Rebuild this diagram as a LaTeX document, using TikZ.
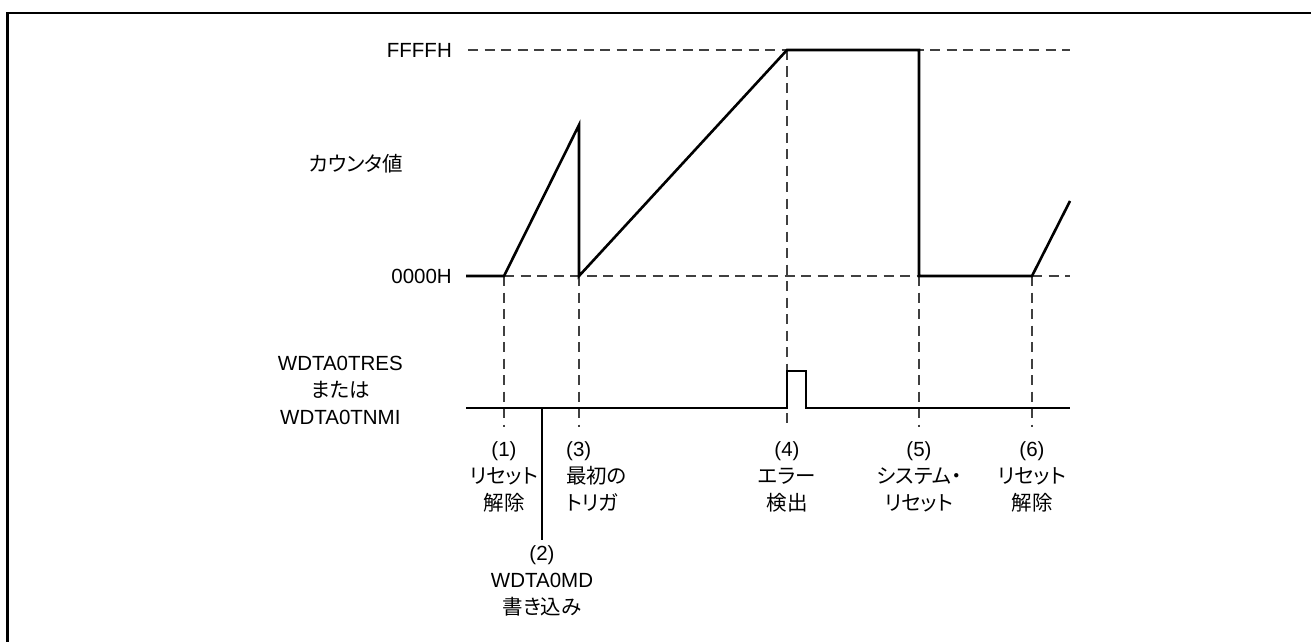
\documentclass[tikz,border=0pt]{standalone}
\usepackage{fontspec}
\setmainfont{Liberation Sans}
\newfontfamily\jp[RawFeature=+palt]{Noto Sans CJK JP}
\begin{document}
\begin{tikzpicture}[x=1pt,y=-1pt,
  lbl/.style={inner sep=0pt, font=\fontsize{20.5}{27}\selectfont},
  evlbl/.style={lbl, align=center, anchor=north},
  guide/.style={draw=black!75, line width=1.3pt, dash pattern=on 10pt off 6.5pt},
  wave/.style={draw=black, line width=2.6pt, line join=miter},
  sig/.style={draw=black, line width=2.9pt},
  thin/.style={draw=black, line width=1.1pt}]
\useasboundingbox (0,0) rectangle (1311,642);
% frame
\draw[line width=2.6pt] (7.7,645) -- (7.7,13) -- (1315,13);
% event coordinates
\coordinate (s0) at (466,276);
\coordinate (e1) at (504,276);
\coordinate (pk) at (579,125);
\coordinate (e3) at (579,276);
\coordinate (e4) at (787,50);
\coordinate (e5t) at (919,50);
\coordinate (e5) at (919,276);
\coordinate (e6) at (1032,276);
\coordinate (w7) at (1070,201);
\coordinate (fL) at (468,50);
\coordinate (fR) at (1070,50);
\coordinate (zR) at (1070,276);
\coordinate (b1) at (504,427);
\coordinate (b3) at (579,427);
\coordinate (b4) at (787,427);
\coordinate (b5) at (919,427);
\coordinate (b6) at (1032,427);
\coordinate (g0) at (466,408);
\coordinate (p1) at (787,408);
\coordinate (p2) at (787,371);
\coordinate (p3) at (806,371);
\coordinate (p4) at (806,408);
\coordinate (gR) at (1070,408);
\coordinate (m2t) at (542,408);
\coordinate (m2b) at (542,540);
% guides
\draw[guide] (fL) -- (fR);
\draw[guide] (e1) -- (zR);
\draw[guide] (e1) -- (b1);
\draw[guide] (e3) -- (b3);
\draw[guide] (e4) -- (b4);
\draw[guide] (e5) -- (b5);
\draw[guide] (e6) -- (b6);
% counter waveform
\draw[wave] (s0) -- (e1) -- (pk) -- (e3) -- (e4) -- (e5t) -- (e5) -- (e6) -- (w7);
% signal
\draw[sig] (g0) -- (p1) -- (p2) -- (p3) -- (p4) -- (gR);
\draw[thin] (m2t) -- (m2b);
% left labels
\node[lbl, anchor=east] (ffff) at (452,50) {FFFFH};
\node[lbl, anchor=east] (zero) at (452,276) {0000H};
\node[lbl, anchor=east] (cnt) at (403,164) {\jp カウンタ値};
\node[lbl, anchor=east, align=center] (sgn) at (403,390) {WDTA0TRES\\{\jp または}\\WDTA0TNMI};
% event labels
\node[evlbl] (l1) at (504,441) {(1)\\{\jp リセット}\\{\jp 解除}};
\node[lbl, align=left, anchor=north west] (l3) at (566,441) {(3)\\{\jp 最初の}\\{\jp トリガ}};
\node[evlbl] (l4) at (787,441) {(4)\\{\jp エラー}\\{\jp 検出}};
\node[evlbl] (l5) at (919,441) {(5)\\{\jp システム・}\\{\jp リセット}};
\node[evlbl] (l6) at (1032,441) {(6)\\{\jp リセット}\\{\jp 解除}};
\node[evlbl] (l2) at (542,545) {(2)\\WDTA0MD\\{\jp 書き込み}};
\end{tikzpicture}
\end{document}
